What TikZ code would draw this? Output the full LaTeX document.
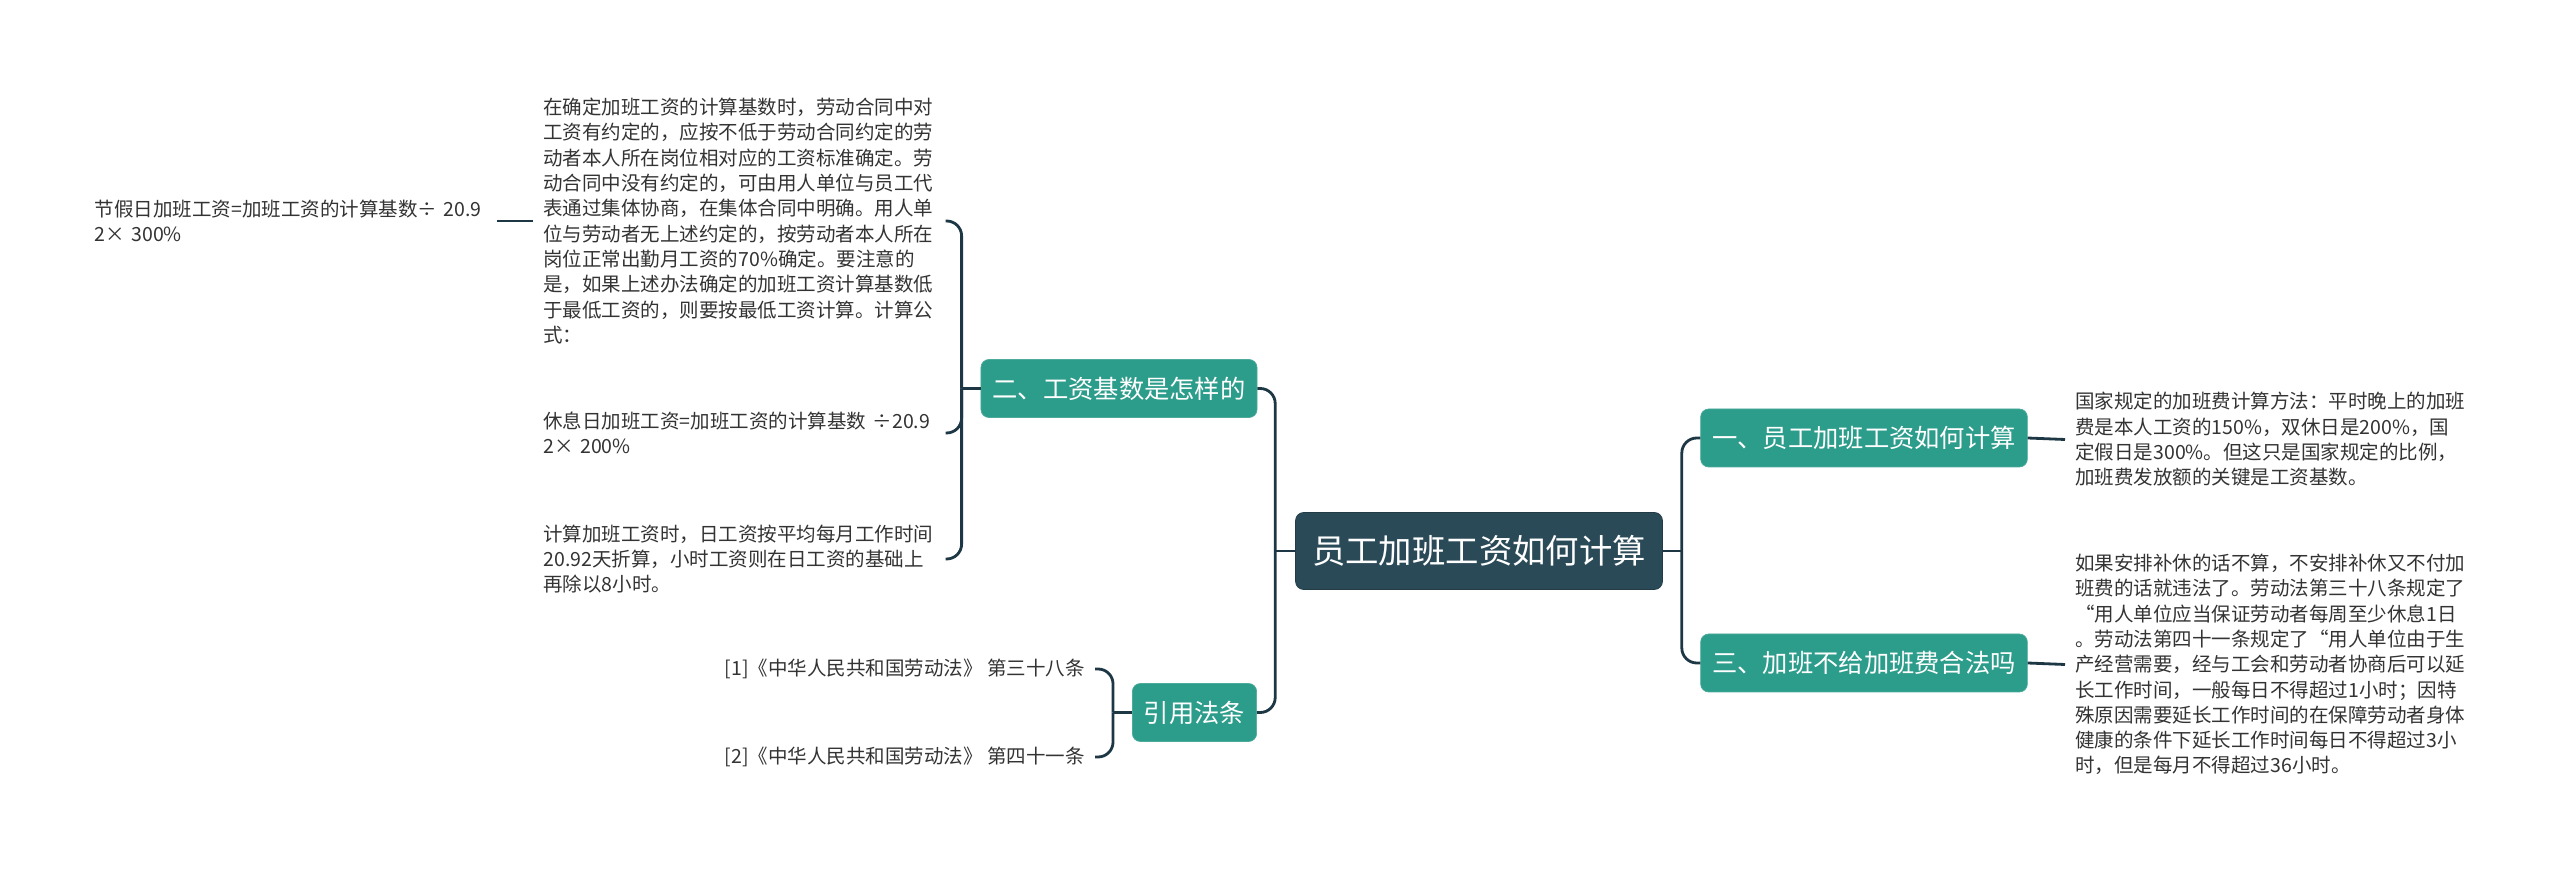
\documentclass[tikz,border=0pt]{standalone}
\usepackage{fontspec}
\setmainfont{Noto Sans CJK SC}
\usetikzlibrary{positioning, calc}

\definecolor{rootblue}{HTML}{2B4A58}
\definecolor{branchteal}{HTML}{2C9C8B}
\definecolor{linkdark}{HTML}{1E3745}
\definecolor{leafgray}{HTML}{333333}

\begin{document}
\begin{tikzpicture}[
    % Define styles for the mind map levels
    root_node/.style={rectangle, rounded corners=0.16cm, fill=rootblue, draw=rootblue!80!black, text=white, font=\fontsize{19pt}{23pt}\selectfont, minimum height=1.54cm, inner xsep=0.33cm},
    branch_node/.style={rectangle, rounded corners=0.16cm, fill=branchteal, draw=branchteal!85!white, text=white, font=\fontsize{14.4pt}{17pt}\selectfont, minimum height=1.16cm, inner xsep=0.23cm},
    leaf_node/.style={text width=7.84cm, align=left, inner xsep=0.2cm, text=leafgray, font=\fontsize{11.1pt}{14.4pt}\selectfont},
    ref_lbl/.style={inner xsep=0.2cm, text=leafgray, font=\fontsize{11.1pt}{14.4pt}\selectfont},
    link/.style={draw=linkdark, line width=1.6pt},
    elbow_link/.style={link, rounded corners=0.3cm}
]
    \useasboundingbox (0,0) rectangle (51.2,-17.42);

    % --- Root and Main Branches ---
    \node[root_node] (root) at (29.58,-11.02) {员工加班工资如何计算};
    \node[branch_node] (calc) at (37.28,-8.76) {一、员工加班工资如何计算};
    \node[branch_node] (legal) at (37.28,-13.26) {三、加班不给加班费合法吗};
    \node[branch_node] (base) at (22.38,-7.77) {二、工资基数是怎样的};
    \node[branch_node] (law) at (23.89,-14.25) {引用法条};

    % --- Right Side Texts ---
    \node[leaf_node, anchor=west] (rate) at (41.3,-8.79) {国家规定的加班费计算方法：平时晚上的加班\\
费是本人工资的150\%，双休日是200\%，国\\
定假日是300\%。但这只是国家规定的比例，\\
加班费发放额的关键是工资基数。};
    \node[leaf_node, anchor=west] (rest) at (41.3,-13.29) {如果安排补休的话不算，不安排补休又不付加\\
班费的话就违法了。劳动法第三十八条规定了\\
“用人单位应当保证劳动者每周至少休息1日\\
。劳动法第四十一条规定了“用人单位由于生\\
产经营需要，经与工会和劳动者协商后可以延\\
长工作时间，一般每日不得超过1小时；因特\\
殊原因需要延长工作时间的在保障劳动者身体\\
健康的条件下延长工作时间每日不得超过3小\\
时，但是每月不得超过36小时。};

    % --- Left Side Texts (Base Wage) ---
    \node[leaf_node, anchor=west] (basis) at (10.66,-4.42) {在确定加班工资的计算基数时，劳动合同中对\\
工资有约定的，应按不低于劳动合同约定的劳\\
动者本人所在岗位相对应的工资标准确定。劳\\
动合同中没有约定的，可由用人单位与员工代\\
表通过集体协商，在集体合同中明确。用人单\\
位与劳动者无上述约定的，按劳动者本人所在\\
岗位正常出勤月工资的70\%确定。要注意的\\
是，如果上述办法确定的加班工资计算基数低\\
于最低工资的，则要按最低工资计算。计算公\\
式：};
    \node[leaf_node, left=0.72cm of basis] (holiday) {节假日加班工资=加班工资的计算基数÷~20.9\\
2×~300\%};
    \node[leaf_node, anchor=west] (weekend) at (10.66,-8.66) {休息日加班工资=加班工资的计算基数~÷20.9\\
2×~200\%};
    \node[leaf_node, anchor=west] (daily) at (10.66,-11.18) {计算加班工资时，日工资按平均每月工作时间\\
20.92天折算，小时工资则在日工资的基础上\\
再除以8小时。};

    % --- Cited Articles ---
    \node[ref_lbl, anchor=east] (art38) at (21.9,-13.38) {[1]《中华人民共和国劳动法》~第三十八条};
    \node[ref_lbl, anchor=east] (art41) at (21.9,-15.14) {[2]《中华人民共和国劳动法》~第四十一条};

    % --- Connectors from the root ---
    \draw[link] (root.east) -- ++(0.38,0) coordinate (rbus);
    \draw[elbow_link] (rbus) |- (calc.west);
    \draw[elbow_link] (rbus) |- (legal.west);
    \draw[link] (root.west) -- ++(-0.4,0) coordinate (lbus);
    \draw[elbow_link] (lbus) |- (base.east);
    \draw[elbow_link] (lbus) |- (law.east);

    % --- Connectors to the texts ---
    \draw[link] (calc.east) -- (rate.west);
    \draw[link] (legal.east) -- (rest.west);
    \draw[link] (base.west) -- ++(-0.38,0) coordinate (bbus);
    \draw[elbow_link] (bbus) |- (basis.east);
    \draw[elbow_link] (bbus) |- (weekend.east);
    \draw[elbow_link] (bbus) |- (daily.east);
    \draw[link] (basis.west) -- (holiday.east);
    \draw[link] (law.west) -- ++(-0.38,0) coordinate (lawbus);
    \draw[elbow_link] (lawbus) |- (art38.east);
    \draw[elbow_link] (lawbus) |- (art41.east);

\end{tikzpicture}
\end{document}
